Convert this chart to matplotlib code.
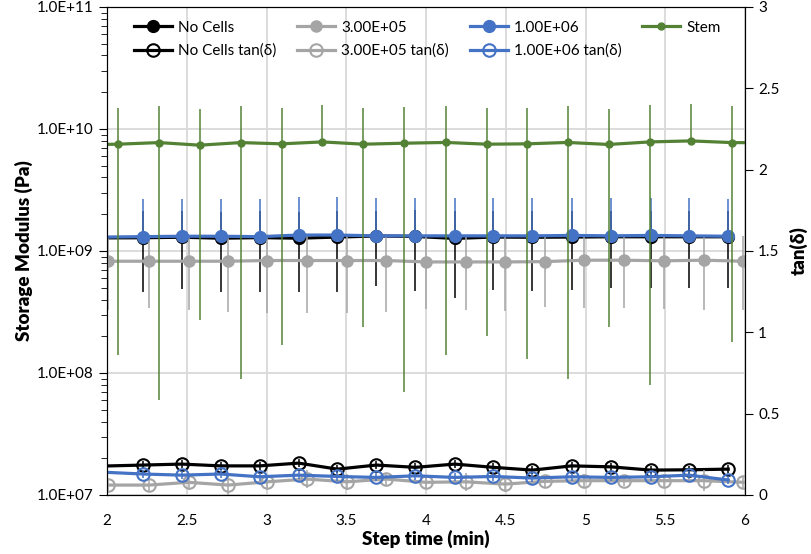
import numpy as np
import matplotlib
matplotlib.use("Agg")
import matplotlib.pyplot as plt
from matplotlib.ticker import FuncFormatter, LogLocator, NullFormatter

plt.rcParams['font.family'] = ['Lato', 'DejaVu Sans']

# step times (min)
x_cells = [1.980, 2.225, 2.469, 2.712, 2.957, 3.201, 3.444, 3.689, 3.934,
           4.180, 4.423, 4.667, 4.914, 5.161, 5.408, 5.650, 5.895]
x_3e5 = [2.009, 2.262, 2.511, 2.758, 3.005, 3.253, 3.502, 3.751, 3.998,
         4.249, 4.494, 4.745, 4.991, 5.240, 5.489, 5.740, 5.989]
x_stem = [1.810, 2.067, 2.326, 2.581, 2.838, 3.095, 3.350, 3.607, 3.864,
          4.124, 4.381, 4.635, 4.888, 5.145, 5.404, 5.660, 5.918, 6.175]

# storage modulus (Pa) and std
no_cells = [1.280, 1.283, 1.296, 1.272, 1.286, 1.272, 1.300, 1.326, 1.315,
            1.267, 1.300, 1.295, 1.300, 1.307, 1.307, 1.307, 1.307]
no_cells_err = [0.820, 0.825, 0.812, 0.809, 0.823, 0.809, 0.837, 0.811, 0.846,
                0.853, 0.820, 0.826, 0.820, 0.810, 0.810, 0.810, 0.810]
cells_3e5 = [8.24, 8.24, 8.24, 8.24, 8.35, 8.35, 8.35, 8.35, 8.13,
             8.13, 8.13, 8.18, 8.40, 8.40, 8.30, 8.40, 8.24]
cells_3e5_err = [4.96, 4.85, 4.96, 5.06, 5.26, 5.26, 5.26, 5.17, 4.78,
                 4.85, 4.89, 4.73, 5.01, 5.01, 4.95, 5.12, 4.96]
cells_1e6 = [1.30, 1.31, 1.32, 1.32, 1.31, 1.35, 1.35, 1.33, 1.33,
             1.33, 1.33, 1.33, 1.34, 1.33, 1.34, 1.33, 1.32]
cells_1e6_err = [1.36, 1.36, 1.37, 1.37, 1.36, 1.41, 1.40, 1.38, 1.38,
                 1.38, 1.39, 1.39, 1.40, 1.38, 1.38, 1.38, 1.37]
stem = [7.40, 7.50, 7.73, 7.36, 7.73, 7.55, 7.83, 7.50, 7.64,
        7.75, 7.50, 7.55, 7.75, 7.46, 7.83, 7.98, 7.73, 7.70]
stem_err = [7.30, 7.36, 7.67, 7.09, 7.64, 7.38, 7.85, 7.26, 7.57,
            7.61, 7.30, 7.42, 7.66, 7.22, 7.75, 8.00, 7.55, 7.50]

# tan(delta)
tan_no_cells = [0.178, 0.184, 0.190, 0.179, 0.179, 0.196, 0.159, 0.184, 0.170,
                0.190, 0.170, 0.153, 0.179, 0.173, 0.153, 0.155, 0.159]
tan_no_cells_err = [0.025] * 17
tan_3e5 = [0.061, 0.061, 0.078, 0.061, 0.081, 0.098, 0.081, 0.098, 0.078,
           0.081, 0.067, 0.084, 0.088, 0.088, 0.088, 0.088, 0.078]
tan_3e5_err = [0.040, 0.040, 0.045, 0.060, 0.040, 0.055, 0.050, 0.040, 0.040,
               0.055, 0.050, 0.035, 0.040, 0.035, 0.040, 0.065, 0.040]
tan_1e6 = [0.140, 0.129, 0.122, 0.129, 0.112, 0.122, 0.114, 0.108, 0.118,
           0.108, 0.114, 0.104, 0.112, 0.108, 0.112, 0.122, 0.092]
tan_1e6_err = [0.025] * 17

BLACK = "#000000"
GRAY = "#A5A5A5"
BLUE = "#4472C4"
GREEN = "#548235"


def log_err(v, e):
    # lower bar dropped when it would go below zero (log axis)
    v = np.asarray(v)
    e = np.asarray(e)
    return [np.where(e >= v, 0, e), e]


def inside(x):
    x = np.asarray(x)
    return list((x >= 2) & (x <= 6))


fig = plt.figure(figsize=(8.12, 5.54), dpi=100)
ax = fig.add_axes([0.1318, 0.1065, 0.7857, 0.881])
ax2 = ax.twinx()

storage = [
    (x_cells, np.array(no_cells) * 1e9, np.array(no_cells_err) * 1e9, BLACK, "No Cells", 8.5),
    (x_3e5, np.array(cells_3e5) * 1e8, np.array(cells_3e5_err) * 1e8, GRAY, "3.00E+05", 8),
    (x_cells, np.array(cells_1e6) * 1e9, np.array(cells_1e6_err) * 1e9, BLUE, "1.00E+06", 8.5),
    (x_stem, np.array(stem) * 1e9, np.array(stem_err) * 1e9, GREEN, "Stem", 5),
]
handles = {}
for x, v, e, c, lab, ms in storage:
    ax.errorbar(x, v, yerr=log_err(v, e), fmt='none', ecolor=c, elinewidth=1.1, capsize=0)
    h, = ax.plot(x, v, color=c, lw=2.3, marker='o', ms=ms, markevery=inside(x), label=lab)
    handles[lab] = h

tan = [
    (x_cells, tan_no_cells, tan_no_cells_err, BLACK, "No Cells tan(δ)"),
    (x_3e5, tan_3e5, tan_3e5_err, GRAY, "3.00E+05 tan(δ)"),
    (x_cells, tan_1e6, tan_1e6_err, BLUE, "1.00E+06 tan(δ)"),
]
for x, v, e, c, lab in tan:
    ax2.errorbar(x, v, yerr=e, fmt='none', ecolor=c, elinewidth=1.1, capsize=0)
    h, = ax2.plot(x, v, color=c, lw=2.3, marker='o', ms=9, mfc='none', mew=1.5,
                  markevery=inside(x), label=lab)
    handles[lab] = h

ax.set_yscale('log')
ax.set_ylim(1e7, 1e11)
ax.set_xlim(2, 6)
ax2.set_ylim(0, 3)

ax.set_xticks(np.arange(2, 6.01, 0.5))
ax.xaxis.set_major_formatter(FuncFormatter(lambda v, p: f"{v:g}"))
ax.yaxis.set_major_locator(LogLocator(base=10, numticks=10))
ax.yaxis.set_minor_locator(LogLocator(base=10, subs=np.arange(2, 10), numticks=10))
ax.yaxis.set_minor_formatter(NullFormatter())
ax.yaxis.set_major_formatter(FuncFormatter(lambda v, p: f"{v:.1E}"))
ax2.set_yticks(np.arange(0, 3.01, 0.5))
ax2.yaxis.set_major_formatter(FuncFormatter(lambda v, p: f"{v:g}"))

ax.grid(True, axis='x', color='#D9D9D9', lw=1.3)
ax.grid(True, axis='y', which='major', color='#D9D9D9', lw=1.3)
ax.set_axisbelow(True)

ax.tick_params(axis='x', length=0, labelsize=11, pad=14)
ax.tick_params(axis='y', which='major', length=6, labelsize=11)
ax.tick_params(axis='y', which='minor', length=4)
ax2.tick_params(axis='y', length=6, labelsize=11)

ax.set_xlabel("Step time (min)", fontsize=13.5, fontweight='heavy', labelpad=1)
ax.set_ylabel("Storage Modulus (Pa)", fontsize=13.5, fontweight='heavy', labelpad=3)
ax2.set_ylabel("tan(δ)", fontsize=13.5, fontweight='heavy', labelpad=7)

order = ["No Cells", "No Cells tan(δ)", "3.00E+05", "3.00E+05 tan(δ)",
         "1.00E+06", "1.00E+06 tan(δ)", "Stem"]
ax2.legend([handles[k] for k in order], order, ncol=4, loc='upper left',
           bbox_to_anchor=(0.02, 1.0), frameon=False, fontsize=11,
           handlelength=2.5, handletextpad=0.4, columnspacing=1.35, labelspacing=0.6)

fig.savefig("out.png", dpi=100)
